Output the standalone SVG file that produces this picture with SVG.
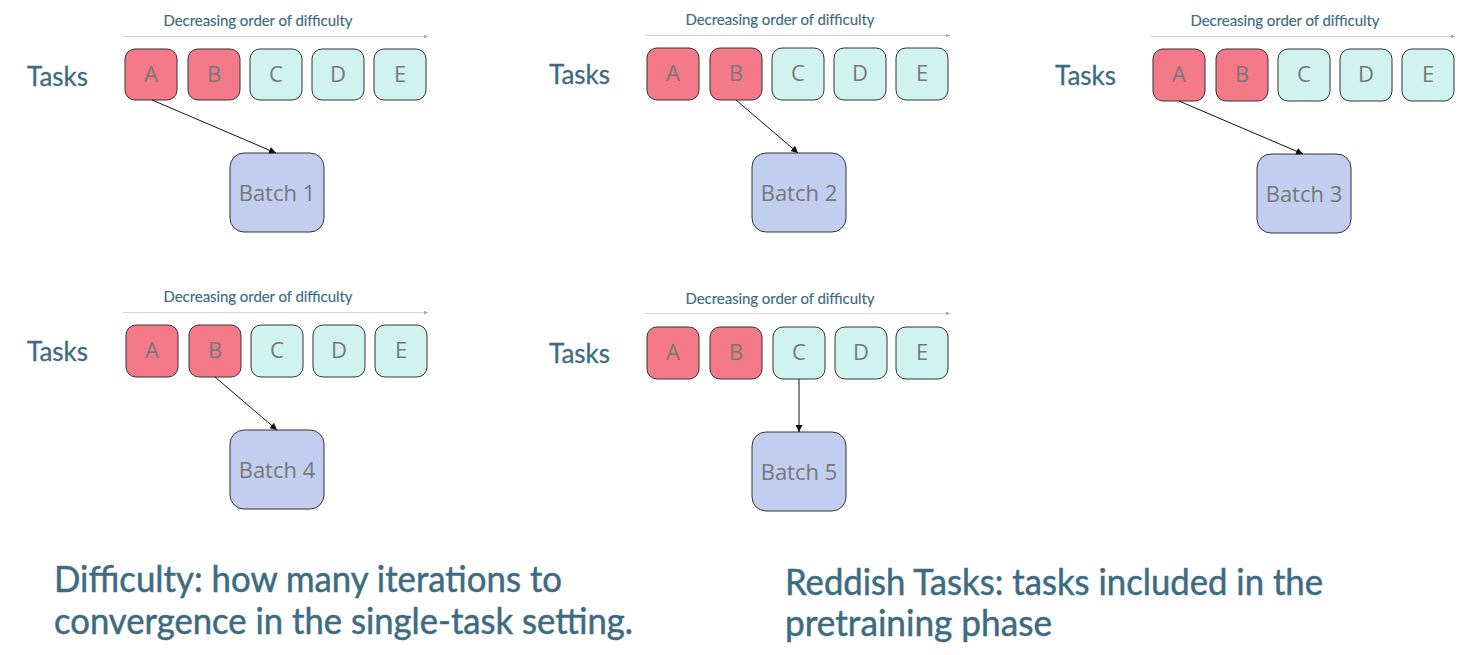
<svg xmlns="http://www.w3.org/2000/svg" width="1472" height="655" viewBox="0 0 1472 655">
<defs>
<marker id="ah" viewBox="0 0 10 10" refX="10" refY="5" markerWidth="7" markerHeight="7" orient="auto" markerUnits="userSpaceOnUse"><path d="M0,0 L10,5 L0,10 z" fill="#111"/></marker>
<marker id="ahs" viewBox="0 0 10 10" refX="10" refY="5" markerWidth="4" markerHeight="4" orient="auto" markerUnits="userSpaceOnUse"><path d="M0,0 L10,5 L0,10 z" fill="#aaa"/></marker>
</defs>
<style>
.red{fill:#f47a89;stroke:#333;stroke-width:1}
.teal{fill:#d1f3ef;stroke:#333;stroke-width:1}
.batch{fill:#c2cef0;stroke:#333;stroke-width:1}
.lt{font-family:"Open Sans","Noto Sans",sans-serif;font-size:22px;fill:#777;text-anchor:middle}
.bt{font-family:"Open Sans","Noto Sans",sans-serif;font-size:22px;fill:#777;text-anchor:middle}
.title{font-family:Lato,"Open Sans",sans-serif;font-size:15px;fill:#3d6b82;text-anchor:middle;stroke:#3d6b82;stroke-width:0.15}
.tasks{font-family:Lato,"Open Sans",sans-serif;font-size:26px;fill:#3d6b82;stroke:#3d6b82;stroke-width:0.3}
.big{font-family:Lato,"Open Sans",sans-serif;font-size:36px;fill:#3d6b82;stroke:#3d6b82;stroke-width:0.5}
.axis{stroke:#d4d4d4;stroke-width:1;fill:none}
.conn{stroke:#111;stroke-width:1;fill:none}
</style>
<rect width="1472" height="655" fill="#fff"/>

<!-- Panel 1 -->
<g id="panel1">
<text class="title" x="258" y="26" textLength="189">Decreasing order of difficulty</text>
<line class="axis" x1="123" y1="36.5" x2="428" y2="36.5" marker-end="url(#ahs)"/>
<text class="tasks" x="27" y="86">Tasks</text>
<g id="p1-A"><rect class="red" x="125" y="49" width="52" height="51" rx="10"/><text class="lt" x="151" y="82">A</text></g>
<g id="p1-B"><rect class="red" x="188" y="49" width="52" height="51" rx="10"/><text class="lt" x="214" y="82">B</text></g>
<g id="p1-C"><rect class="teal" x="250" y="49" width="52" height="51" rx="10"/><text class="lt" x="276" y="82">C</text></g>
<g id="p1-D"><rect class="teal" x="312" y="49" width="52" height="51" rx="10"/><text class="lt" x="338" y="82">D</text></g>
<g id="p1-E"><rect class="teal" x="374" y="49" width="52" height="51" rx="10"/><text class="lt" x="400" y="82">E</text></g>
<g id="batch1"><rect class="batch" x="230" y="153" width="94" height="79" rx="14"/><text class="bt" x="277" y="201">Batch 1</text></g>
</g>

<!-- Panel 2 -->
<g id="panel2">
<text class="title" x="780" y="25" textLength="189">Decreasing order of difficulty</text>
<line class="axis" x1="645" y1="35.5" x2="950" y2="35.5" marker-end="url(#ahs)"/>
<text class="tasks" x="549" y="84">Tasks</text>
<g id="p2-A"><rect class="red" x="647" y="48" width="52" height="52" rx="10"/><text class="lt" x="673" y="81">A</text></g>
<g id="p2-B"><rect class="red" x="710" y="48" width="52" height="52" rx="10"/><text class="lt" x="736" y="81">B</text></g>
<g id="p2-C"><rect class="teal" x="772" y="48" width="52" height="52" rx="10"/><text class="lt" x="798" y="81">C</text></g>
<g id="p2-D"><rect class="teal" x="834" y="48" width="52" height="52" rx="10"/><text class="lt" x="860" y="81">D</text></g>
<g id="p2-E"><rect class="teal" x="896" y="48" width="52" height="52" rx="10"/><text class="lt" x="922" y="81">E</text></g>
<g id="batch2"><rect class="batch" x="752" y="153" width="94" height="79" rx="14"/><text class="bt" x="799" y="201">Batch 2</text></g>
</g>

<!-- Panel 3 -->
<g id="panel3">
<text class="title" x="1285" y="26" textLength="189">Decreasing order of difficulty</text>
<line class="axis" x1="1150" y1="36.5" x2="1455" y2="36.5" marker-end="url(#ahs)"/>
<text class="tasks" x="1055" y="85">Tasks</text>
<g id="p3-A"><rect class="red" x="1153" y="49" width="52" height="52" rx="10"/><text class="lt" x="1179" y="82">A</text></g>
<g id="p3-B"><rect class="red" x="1216" y="49" width="52" height="52" rx="10"/><text class="lt" x="1242" y="82">B</text></g>
<g id="p3-C"><rect class="teal" x="1278" y="49" width="52" height="52" rx="10"/><text class="lt" x="1304" y="82">C</text></g>
<g id="p3-D"><rect class="teal" x="1340" y="49" width="52" height="52" rx="10"/><text class="lt" x="1366" y="82">D</text></g>
<g id="p3-E"><rect class="teal" x="1402" y="49" width="52" height="52" rx="10"/><text class="lt" x="1428" y="82">E</text></g>
<g id="batch3"><rect class="batch" x="1257" y="154" width="94" height="79" rx="14"/><text class="bt" x="1304" y="202">Batch 3</text></g>
</g>

<!-- Panel 4 -->
<g id="panel4">
<text class="title" x="258" y="302" textLength="189">Decreasing order of difficulty</text>
<line class="axis" x1="123" y1="312.5" x2="428" y2="312.5" marker-end="url(#ahs)"/>
<text class="tasks" x="27" y="361">Tasks</text>
<g id="p4-A"><rect class="red" x="126" y="325" width="52" height="52" rx="10"/><text class="lt" x="152" y="358">A</text></g>
<g id="p4-B"><rect class="red" x="189" y="325" width="52" height="52" rx="10"/><text class="lt" x="215" y="358">B</text></g>
<g id="p4-C"><rect class="teal" x="251" y="325" width="52" height="52" rx="10"/><text class="lt" x="277" y="358">C</text></g>
<g id="p4-D"><rect class="teal" x="313" y="325" width="52" height="52" rx="10"/><text class="lt" x="339" y="358">D</text></g>
<g id="p4-E"><rect class="teal" x="375" y="325" width="52" height="52" rx="10"/><text class="lt" x="401" y="358">E</text></g>
<g id="batch4"><rect class="batch" x="230" y="430" width="94" height="79" rx="14"/><text class="bt" x="277" y="478">Batch 4</text></g>
</g>

<!-- Panel 5 -->
<g id="panel5">
<text class="title" x="780" y="304" textLength="189">Decreasing order of difficulty</text>
<line class="axis" x1="645" y1="313.5" x2="950" y2="313.5" marker-end="url(#ahs)"/>
<text class="tasks" x="549" y="363">Tasks</text>
<g id="p5-A"><rect class="red" x="647" y="327" width="52" height="52" rx="10"/><text class="lt" x="673" y="360">A</text></g>
<g id="p5-B"><rect class="red" x="710" y="327" width="52" height="52" rx="10"/><text class="lt" x="736" y="360">B</text></g>
<g id="p5-C"><rect class="teal" x="773" y="327" width="52" height="52" rx="10"/><text class="lt" x="799" y="360">C</text></g>
<g id="p5-D"><rect class="teal" x="835" y="327" width="52" height="52" rx="10"/><text class="lt" x="861" y="360">D</text></g>
<g id="p5-E"><rect class="teal" x="896" y="327" width="52" height="52" rx="10"/><text class="lt" x="922" y="360">E</text></g>
<g id="batch5"><rect class="batch" x="752" y="432" width="94" height="79" rx="14"/><text class="bt" x="799" y="480">Batch 5</text></g>
</g>

<g id="connectors">
<line class="conn" x1="152" y1="100" x2="276" y2="153" marker-end="url(#ah)"/>
<line class="conn" x1="736" y1="100" x2="798" y2="153" marker-end="url(#ah)"/>
<line class="conn" x1="1179" y1="101" x2="1303" y2="154" marker-end="url(#ah)"/>
<line class="conn" x1="215" y1="377" x2="277" y2="430" marker-end="url(#ah)"/>
<line class="conn" x1="799" y1="379" x2="799" y2="432" marker-end="url(#ah)"/>
</g>

<g id="notes">
<text class="big" x="54" y="592" textLength="508" lengthAdjust="spacingAndGlyphs">Difficulty: how many iterations to</text>
<text class="big" x="54" y="634" textLength="579" lengthAdjust="spacingAndGlyphs">convergence in the single-task setting.</text>
<text class="big" x="785" y="595" textLength="538" lengthAdjust="spacingAndGlyphs">Reddish Tasks: tasks included in the</text>
<text class="big" x="785" y="636" textLength="267" lengthAdjust="spacingAndGlyphs">pretraining phase</text>
</g>
</svg>
